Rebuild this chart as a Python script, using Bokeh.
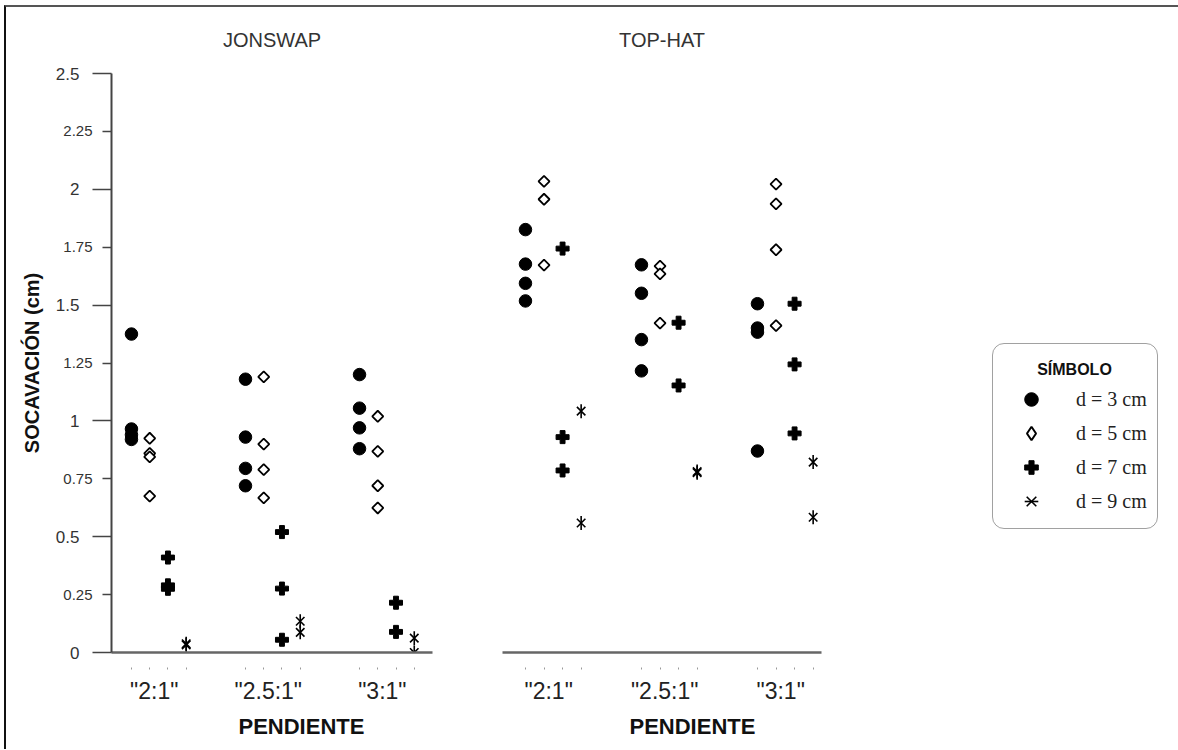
import math
from bokeh.plotting import figure
from bokeh.models import (Range1d, FixedTicker, Legend, LegendItem, LinearAxis, Title, Label)
from bokeh.models import ColumnDataSource
from bokeh.layouts import row
from bokeh.embed import file_html
from bokeh.resources import INLINE

# ---------------- data ----------------
categories = ['"2:1"', '"2.5:1"', '"3:1"']
series_names = ["d = 3 cm", "d = 5 cm", "d = 7 cm", "d = 9 cm"]
y_major = [0, 0.5, 1, 1.5, 2, 2.5]
y_major_labels = ["0", "0.5", "1", "1.5", "2", "2.5"]
y_minor = [0.25, 0.75, 1.25, 1.75, 2.25]
y_minor_labels = ["0.25", "0.75", "1.25", "1.75", "2.25"]

# JONSWAP: scour (cm) per slope category
jonswap_d3 = [[1.375, 0.965, 0.94, 0.92], [1.18, 0.93, 0.795, 0.72], [1.20, 1.055, 0.97, 0.88]]
jonswap_d5 = [[0.925, 0.86, 0.845, 0.675], [1.19, 0.90, 0.79, 0.668], [1.02, 0.868, 0.72, 0.624]]
jonswap_d7 = [[0.41, 0.29, 0.275], [0.52, 0.276, 0.055], [0.215, 0.089]]
jonswap_d9 = [[0.038, 0.033], [0.135, 0.087], [0.062, 0.0]]

# TOP-HAT
tophat_d3 = [[1.826, 1.677, 1.594, 1.518], [1.674, 1.551, 1.351, 1.216], [1.506, 1.401, 1.383, 0.87]]
tophat_d5 = [[2.034, 1.957, 1.673], [1.668, 1.635, 1.422], [2.022, 1.937, 1.739, 1.411]]
tophat_d7 = [[1.744, 0.93, 0.786], [1.424, 1.153], [1.506, 1.244, 0.946]]
tophat_d9 = [[1.042, 0.559], [0.781, 0.776], [0.822, 0.584]]

# ---------------- style ----------------
FONT = "Liberation Sans"
SERIF = "Liberation Serif"
H = 742
TOP = 66
FRAME_H = 579
SUB = 0.16      # spacing between series inside a slope category
SHIFT = -0.2    # first series position relative to category label


def xy(values, s):
    xs, ys = [], []
    for g, vals in enumerate(values):
        for v in vals:
            xs.append(g + SHIFT + s * SUB)
            ys.append(v)
    return ColumnDataSource(dict(x=xs, y=ys))


def add_series(p, sources, legend_style=False):
    s3, s5, s7, s9 = sources
    r3 = p.scatter("x", "y", source=s3, marker="circle", size=12.5,
                   fill_color="black", line_color="black")
    if legend_style:
        r5 = p.scatter("x", "y", source=s5, marker="diamond", size=12,
                       fill_color="white", line_color="black", line_width=2)
    else:
        r5 = p.scatter("x", "y", source=s5, marker="square", angle=math.pi / 4, size=7.8,
                       fill_color="white", line_color="black", line_width=1.8)
    r7 = p.scatter("x", "y", source=s7, marker="plus", size=13,
                   fill_color="black", line_color="black", line_width=1)
    r9a = p.scatter("x", "y", source=s9, marker="x", size=12,
                    line_color="black", line_width=1.6)
    r9b = p.scatter("x", "y", source=s9, marker="dash", angle=math.pi / 2, size=14,
                    line_color="black", line_width=1.6)
    return [[r3], [r5], [r7], [r9a, r9b]]


def make_panel(title, series, x_start, x_end, width, min_left, min_right, show_y):
    p = figure(width=width, height=H, x_range=Range1d(x_start, x_end),
               y_range=Range1d(0, 2.5), output_backend="svg", toolbar_location=None,
               min_border_left=min_left, min_border_right=min_right,
               min_border_top=TOP, min_border_bottom=H - TOP - FRAME_H,
               y_axis_location="left" if show_y else None, title=title)
    p.grid.visible = False
    p.outline_line_color = None
    p.background_fill_color = "white"
    p.border_fill_color = "white"

    p.title.align = "center"
    p.title.vertical_align = "top"
    p.title.text_font = FONT
    p.title.text_font_size = "20px"
    p.title.text_font_style = "normal"
    p.title.text_color = "#333333"
    p.title.standoff = 42

    xa = p.xaxis[0]
    xa.ticker = FixedTicker(ticks=list(range(len(categories))),
                            minor_ticks=[g + SHIFT + s * SUB for g in range(len(categories)) for s in range(4)])
    xa.major_label_overrides = {g: c for g, c in enumerate(categories)}
    xa.axis_line_width = 2.5
    xa.axis_line_color = "#666666"
    xa.major_tick_in = 0
    xa.major_tick_out = 0
    xa.major_tick_line_color = None
    xa.minor_tick_in = -15
    xa.minor_tick_out = 17
    xa.minor_tick_line_color = "#999999"
    xa.minor_tick_line_width = 1
    xa.major_label_standoff = 8
    xa.major_label_text_font = FONT
    xa.major_label_text_font_size = "23px"
    xa.major_label_text_color = "#222222"

    p.add_layout(Title(text="PENDIENTE", align="left", offset=127, vertical_align="top",
                       standoff=15, text_font=FONT, text_font_size="22px",
                       text_font_style="bold", text_color="#111111"), "below")

    if show_y:
        # inner axis: the axis line, all ticks, and the intermediate labels
        ya = p.yaxis[0]
        ya.ticker = FixedTicker(ticks=y_minor, minor_ticks=y_major)
        ya.major_label_overrides = dict(zip(y_minor, y_minor_labels))
        ya.axis_line_width = 2
        ya.axis_line_color = "#444444"
        ya.major_tick_line_color = "#444444"
        ya.minor_tick_line_color = "#444444"
        ya.major_tick_line_width = 1.5
        ya.minor_tick_line_width = 1.5
        ya.major_tick_in = 0
        ya.major_tick_out = 9
        ya.minor_tick_in = 0
        ya.minor_tick_out = 19
        ya.major_label_standoff = 0
        ya.major_label_text_font = FONT
        ya.major_label_text_font_size = "15px"
        ya.major_label_text_color = "#333333"

        # outer axis: the main labels and the axis title
        ya2 = LinearAxis(ticker=FixedTicker(ticks=y_major, minor_ticks=[]),
                         major_label_overrides=dict(zip(y_major, y_major_labels)))
        ya2.axis_line_color = None
        ya2.major_tick_line_color = None
        ya2.minor_tick_line_color = None
        ya2.major_tick_in = 0
        ya2.major_tick_out = 0
        ya2.minor_tick_in = 0
        ya2.minor_tick_out = 0
        ya2.major_label_standoff = -19
        ya2.major_label_text_font = FONT
        ya2.major_label_text_font_size = "17px"
        ya2.major_label_text_color = "#333333"
        ya2.axis_label = "SOCAVACIÓN (cm)"
        ya2.axis_label_text_font = FONT
        ya2.axis_label_text_font_size = "20px"
        ya2.axis_label_text_font_style = "bold"
        ya2.axis_label_text_color = "#111111"
        ya2.axis_label_standoff = 10
        p.add_layout(ya2, "left")

    sources = [xy(vals, s) for s, vals in enumerate(series)]
    rends = add_series(p, sources)
    return p, sources, rends


left, _, _ = make_panel("JONSWAP", [jonswap_d3, jonswap_d5, jonswap_d7, jonswap_d9],
                        -0.375, 2.44, 474, 105, 48, True)
right, right_sources, _ = make_panel("TOP-HAT", [tophat_d3, tophat_d5, tophat_d7, tophat_d9],
                                     -0.398, 2.352, 351, 22, 10, False)

# legend panel (its ranges show none of the data; only the key is visible)
key = figure(width=1178 - 6 - 474 - 351, height=H, x_range=Range1d(0, 1), y_range=Range1d(10, 11),
             output_backend="svg", toolbar_location=None, x_axis_location=None,
             y_axis_location=None, min_border=0, min_border_left=0, min_border_right=0,
             min_border_top=0, min_border_bottom=0)
key.grid.visible = False
key.outline_line_color = None
key.background_fill_color = "white"
key.border_fill_color = "white"
key_rends = add_series(key, right_sources, legend_style=True)

legend = Legend(items=[LegendItem(label=n, renderers=r) for n, r in zip(series_names, key_rends)],
                location=(161, 123), title="SÍMBOLO")
legend.title_text_font = FONT
legend.title_text_font_size = "16px"
legend.title_text_font_style = "bold"
legend.title_text_color = None          # drawn centred by the label below
legend.title_standoff = 10
legend.label_text_font = SERIF
legend.label_text_font_size = "20px"
legend.label_text_color = "#222222"
legend.padding = 10
legend.spacing = 0
legend.margin = 0
legend.glyph_height = 34
legend.glyph_width = 56
legend.label_height = 34
legend.label_standoff = 17
legend.border_line_color = "#444444"
legend.border_line_width = 1.5
legend.background_fill_color = None
legend.background_fill_alpha = 0.0
try:
    legend.border_radius = 12
except AttributeError:
    pass
key.add_layout(legend)
key.add_layout(Label(x=243, y=283, x_units="screen", y_units="screen", text="SÍMBOLO",
                     text_align="center", text_baseline="middle", text_font=FONT,
                     text_font_size="16px", text_font_style="bold", text_color="#111111",
                     level="overlay"))

layout = row(left, right, key, spacing=0, margin=(5, 0, 0, 4),
             styles={"border-top": "2px solid #555555", "border-left": "2px solid #111111"})

open("out.html", "w").write(file_html(layout, INLINE))
